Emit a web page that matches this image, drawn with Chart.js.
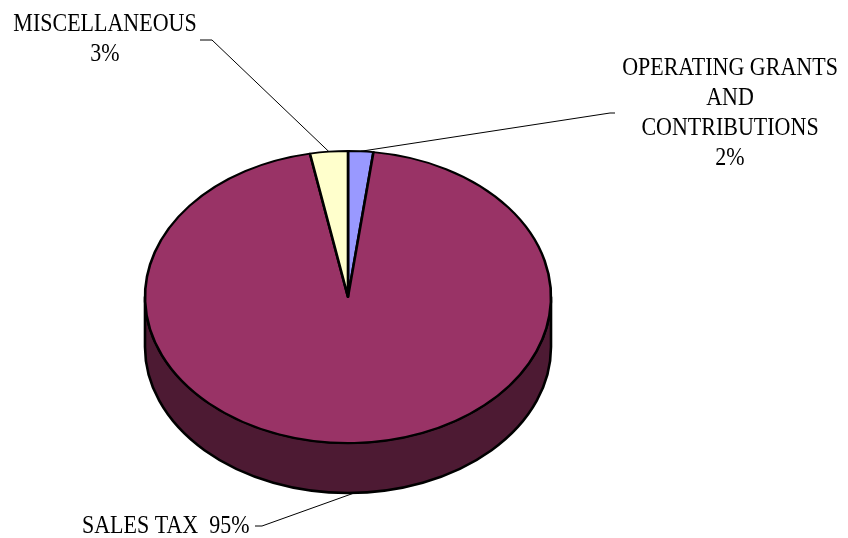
<!DOCTYPE html>
<html>
<head>
<meta charset="utf-8">
<script src="https://cdn.jsdelivr.net/npm/chart.js@4/dist/chart.umd.min.js"></script>
<style>
  html, body { margin: 0; padding: 0; background: #ffffff; }
  #wrap { width: 848px; height: 538px; position: relative; }
</style>
</head>
<body>
<div id="wrap"><canvas id="c" width="848" height="538"></canvas></div>
<script>
// Revenue sources (percent of total)
const categories = ['OPERATING GRANTS AND CONTRIBUTIONS', 'SALES TAX', 'MISCELLANEOUS'];
const shares = [2, 95, 3];
const sliceColors = ['#9999ff', '#993366', '#ffffcc'];
const sideColors = ['#4d4d80', '#4d1a33', '#808066'];

// Label text lines for each slice; the percentage is appended from `shares`
const labelLines = [
  ['OPERATING GRANTS', 'AND', 'CONTRIBUTIONS'],
  ['SALES TAX'],
  ['MISCELLANEOUS']
];

// Tilted-disc geometry on the page
const DISC = { cx: 348, cy: 297, rx: 203, ry: 146, depth: 50 };

// Where each label block sits and where its leader line bends
const LABEL_LAYOUT = [
  { x: 730, y: 75, align: 'center', inline: false, hook: [[615, 113], [610, 113]], side: false },
  { x: 82, y: 533, align: 'left', inline: true, hook: [[255, 526], [262, 526]], side: true },
  { x: 105, y: 31, align: 'center', inline: false, hook: [[200, 40], [212, 40]], side: false }
];

const FONT = '22px "Liberation Serif", "DejaVu Serif", serif';
const TEXT_STRETCH = 1.15;
const LINE_H = 30;
const EDGE_W = 2.6;

function arcGeometry(chart) {
  return chart.getDatasetMeta(0).data.map(el => ({
    x: el.x, y: el.y, start: el.startAngle, end: el.endAngle, r: el.outerRadius
  }));
}

const tiltPlugin = {
  id: 'tilt3d',
  beforeDatasetsDraw(chart) {
    const ctx = chart.ctx;
    const arcs = arcGeometry(chart);
    const { cx, cy, rx, ry, depth } = DISC;
    // extruded wall along the front half of the disc
    ctx.save();
    ctx.lineWidth = EDGE_W;
    ctx.strokeStyle = '#000';
    ctx.lineJoin = 'round';
    arcs.forEach((a, i) => {
      for (let k = -1; k <= 1; k++) {
        const lo = Math.max(a.start, 2 * Math.PI * k);
        const hi = Math.min(a.end, 2 * Math.PI * k + Math.PI);
        if (lo < hi) {
          ctx.beginPath();
          ctx.ellipse(cx, cy, rx, ry, 0, lo, hi);
          ctx.ellipse(cx, cy + depth, rx, ry, 0, hi, lo, true);
          ctx.closePath();
          ctx.fillStyle = sideColors[i];
          ctx.fill();
          ctx.stroke();
        }
      }
    });
    ctx.restore();
    // squash the flat pie into the top face
    const a0 = arcs[0];
    ctx.save();
    ctx.translate(cx, cy);
    ctx.scale(rx / a0.r, ry / a0.r);
    ctx.translate(-a0.x, -a0.y);
  },
  afterDatasetsDraw(chart) {
    chart.ctx.restore();
  },
  afterDraw(chart) {
    const ctx = chart.ctx;
    const arcs = arcGeometry(chart);
    const { cx, cy, rx, ry, depth } = DISC;
    ctx.save();
    ctx.font = FONT;
    ctx.fillStyle = '#000';
    ctx.textBaseline = 'alphabetic';
    arcs.forEach((a, i) => {
      const L = LABEL_LAYOUT[i];
      const mid = (a.start + a.end) / 2;
      let ex = cx + rx * Math.cos(mid);
      let ey = cy + ry * Math.sin(mid);
      if (L.side) ey += depth;
      // leader line
      ctx.beginPath();
      ctx.lineWidth = 1;
      ctx.strokeStyle = '#000';
      ctx.moveTo(L.hook[0][0], L.hook[0][1]);
      ctx.lineTo(L.hook[1][0], L.hook[1][1]);
      ctx.lineTo(ex, ey);
      ctx.stroke();
      // label text
      const pct = shares[i] + '%';
      const lines = L.inline
        ? [labelLines[i].join(' ') + '  ' + pct]
        : labelLines[i].concat([pct]);
      ctx.textAlign = L.align;
      lines.forEach((t, j) => {
        ctx.save();
        ctx.translate(L.x, L.y + j * LINE_H);
        ctx.scale(1, TEXT_STRETCH);
        ctx.fillText(t, 0, 0);
        ctx.restore();
      });
    });
    ctx.restore();
  }
};

new Chart(document.getElementById('c'), {
  type: 'pie',
  data: {
    labels: categories,
    datasets: [{
      data: shares,
      backgroundColor: sliceColors,
      borderColor: '#000000',
      borderWidth: EDGE_W,
      borderJoinStyle: 'round'
    }]
  },
  options: {
    responsive: false,
    animation: false,
    events: [],
    layout: { padding: { left: 145, right: 297, top: 94, bottom: 38 } },
    plugins: {
      legend: { display: false },
      tooltip: { enabled: false }
    }
  },
  plugins: [tiltPlugin]
});
</script>
</body>
</html>
